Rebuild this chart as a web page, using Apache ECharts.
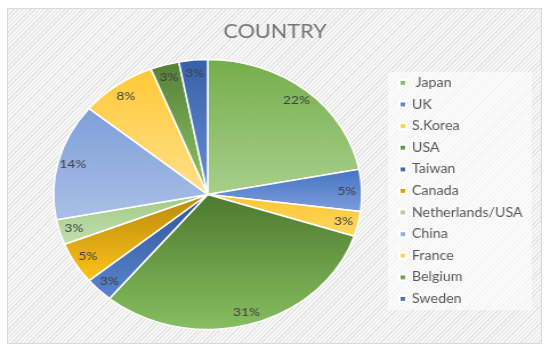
<!DOCTYPE html>
<html>
<head>
<meta charset="utf-8">
<script src="https://cdn.jsdelivr.net/npm/echarts@6/dist/echarts.min.js"></script>
<style>
  html, body { margin: 0; padding: 0; background: #ffffff; }
  #frame {
    position: absolute; left: 7px; top: 8px; width: 533px; height: 334px;
    border: 1px solid #d9d9d9;
    background: repeating-linear-gradient(-45deg, #f6f6f6 0px, #f6f6f6 2px, #e4e4e4 2px, #e4e4e4 3px);
  }
  #chart {
    position: absolute; left: 0; top: 0; width: 482px; height: 351px;
    transform: scaleX(1.14108); transform-origin: 0 0;
  }
</style>
</head>
<body>
<div id="frame"></div>
<div id="chart"></div>
<script>
const titleText = 'COUNTRY';
const categories = [' Japan', 'UK', 'S.Korea', 'USA', 'Taiwan', 'Canada', 'Netherlands/USA', 'China', 'France', 'Belgium', 'Sweden'];
const shares = [22, 5, 3, 31, 3, 5, 3, 14, 8, 3, 3];
const gradTop = ['#74ae4b', '#4673c4', '#fdc532', '#4d792d', '#2f5597', '#b88a0a', '#9fcb83', '#7f9fd8', '#ffc936', '#567f37', '#3660a8'];
const gradBottom = ['#a8d08c', '#7d9edb', '#ffd862', '#87bf61', '#5a85cf', '#ffc21a', '#c3dfb0', '#a9c0e7', '#ffe08a', '#90c66a', '#6a90d6'];

const chart = echarts.init(document.getElementById('chart'), null, { renderer: 'canvas' });

const visibleData = categories.map((name, i) => ({
  name: name,
  value: shares[i],
  itemStyle: {
    color: new echarts.graphic.LinearGradient(0, 0, 0, 1, [
      { offset: 0, color: gradTop[i] },
      { offset: 1, color: gradBottom[i] }
    ])
  }
}));
const labelData = categories.map((name, i) => ({ name: name, value: shares[i] }));

chart.setOption({
  animation: false,
  title: {
    text: titleText,
    left: 'center',
    top: 22,
    padding: 0,
    textStyle: { fontFamily: 'Lato', fontSize: 19, fontWeight: 'normal', color: '#757575' }
  },
  legend: {
    orient: 'vertical',
    left: 340,
    top: 72,
    padding: [4, 8, 4, 9],
    backgroundColor: 'rgba(255,255,255,0.6)',
    itemWidth: 6,
    itemHeight: 6,
    itemGap: 7.6,
    icon: 'rect',
    selectedMode: false,
    data: categories,
    textStyle: { fontFamily: 'Lato', fontSize: 12.5, lineHeight: 14, color: '#595959' }
  },
  series: [
    {
      type: 'pie',
      center: [182, 194.5],
      radius: [0, 135],
      startAngle: 90,
      clockwise: true,
      silent: true,
      avoidLabelOverlap: false,
      label: { show: false },
      labelLine: { show: false },
      itemStyle: { borderColor: '#ffffff', borderWidth: 1.5 },
      data: visibleData
    },
    {
      type: 'pie',
      center: [182, 194.5],
      radius: [0, 238],
      startAngle: 90,
      clockwise: true,
      silent: true,
      legendHoverLink: false,
      avoidLabelOverlap: false,
      itemStyle: { color: 'rgba(0,0,0,0)', borderWidth: 0 },
      labelLine: { show: false },
      label: {
        show: true,
        position: 'inside',
        formatter: '{c}%',
        fontFamily: 'Lato',
        fontSize: 12,
        color: '#404040'
      },
      data: labelData
    }
  ]
});
</script>
</body>
</html>
